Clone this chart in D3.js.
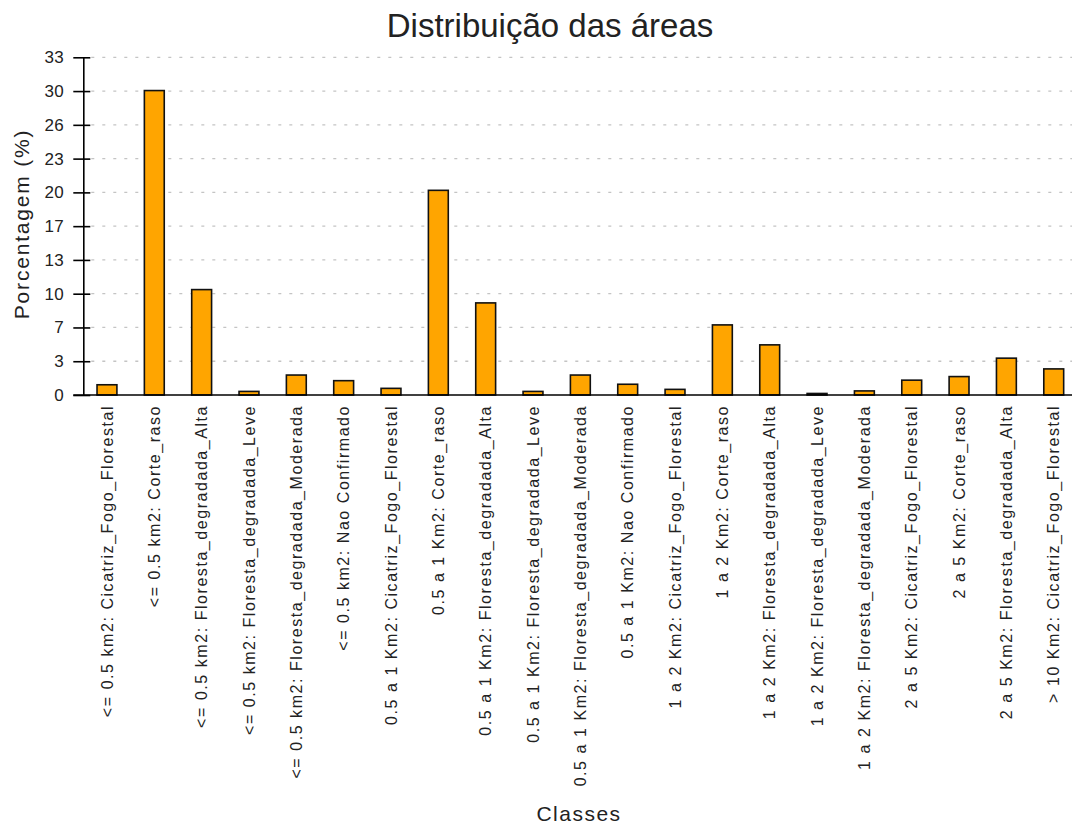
<!DOCTYPE html>
<html>
<head>
<meta charset="utf-8">
<script src="https://cdnjs.cloudflare.com/ajax/libs/d3/7.8.5/d3.min.js"></script>
<style>
    body { margin: 0; background: #fff; }
    text { font-family: "Liberation Sans", Arial, sans-serif; fill: #222; }
</style>
</head>
<body>
<div id="chart"></div>
<script>
var classes = [
    '<= 0.5 km2: Cicatriz_Fogo_Florestal',
    '<= 0.5 km2: Corte_raso',
    '<= 0.5 km2: Floresta_degradada_Alta',
    '<= 0.5 km2: Floresta_degradada_Leve',
    '<= 0.5 km2: Floresta_degradada_Moderada',
    '<= 0.5 km2: Nao Confirmado',
    '0.5 a 1 Km2: Cicatriz_Fogo_Florestal',
    '0.5 a 1 Km2: Corte_raso',
    '0.5 a 1 Km2: Floresta_degradada_Alta',
    '0.5 a 1 Km2: Floresta_degradada_Leve',
    '0.5 a 1 Km2: Floresta_degradada_Moderada',
    '0.5 a 1 Km2: Nao Confirmado',
    '1 a 2 Km2: Cicatriz_Fogo_Florestal',
    '1 a 2 Km2: Corte_raso',
    '1 a 2 Km2: Floresta_degradada_Alta',
    '1 a 2 Km2: Floresta_degradada_Leve',
    '1 a 2 Km2: Floresta_degradada_Moderada',
    '2 a 5 Km2: Cicatriz_Fogo_Florestal',
    '2 a 5 Km2: Corte_raso',
    '2 a 5 Km2: Floresta_degradada_Alta',
    '> 10 Km2: Cicatriz_Fogo_Florestal'
];
var porcentagem = [1.0, 29.75, 10.3, 0.35, 1.95, 1.4, 0.65, 20.0, 9.0, 0.35, 1.95,
    1.05, 0.55, 6.85, 4.9, 0.15, 0.4, 1.45, 1.8, 3.6, 2.55];
var y_ticks = [0, 3.3, 6.6, 9.9, 13.2, 16.5, 19.8, 23.1, 26.4, 29.7, 33];
var y_tick_labels = ['0', '3', '7', '10', '13', '17', '20', '23', '26', '30', '33'];

var chart_width = 1072;
var chart_height = 828;
var left = 83.3, right = 1077.4, top_y = 57.3, base_y = 395;

// Criar SVG
var svg = d3.select('#chart')
    .append('svg')
    .attr('width', chart_width)
    .attr('height', chart_height);

// Criar Escalas
var x_scale = d3.scaleBand()
    .domain(classes)
    .range([left, right])
    .paddingInner(0.58)
    .paddingOuter(0.29);

var y_scale = d3.scaleLinear()
    .domain([0, 33])
    .range([base_y, top_y]);

// grade
svg.append('g')
    .selectAll('line')
    .data(y_ticks.slice(1))
    .enter()
    .append('line')
    .attr('x1', left + 8)
    .attr('x2', chart_width)
    .attr('y1', function (d) { return y_scale(d); })
    .attr('y2', function (d) { return y_scale(d); })
    .attr('stroke', '#c4c4c4')
    .attr('stroke-width', 1.3)
    .attr('stroke-dasharray', '3,8');

// Eixo Y
var y_axis = d3.axisLeft(y_scale)
    .tickValues(y_ticks)
    .tickFormat(function (d, i) { return y_tick_labels[i]; })
    .tickSize(10)
    .tickSizeOuter(0)
    .tickPadding(9);

var gy = svg.append('g')
    .attr('transform', 'translate(' + left + ',0)')
    .call(y_axis);
gy.select('.domain').attr('stroke', '#000').attr('stroke-width', 1.6);
gy.selectAll('.tick line').attr('x2', 7).attr('x1', -10).attr('stroke', '#000').attr('stroke-width', 1.6);
gy.selectAll('.tick text')
    .attr('font-size', 17)
    .attr('letter-spacing', 0.5)
    .attr('font-family', '"Liberation Sans", Arial, sans-serif')
    .attr('fill', '#222');

// Criar barras
svg.selectAll('rect.bar')
    .data(porcentagem)
    .enter()
    .append('rect')
    .attr('class', 'bar')
    .attr('x', function (d, i) { return x_scale(classes[i]); })
    .attr('y', function (d) { return y_scale(d); })
    .attr('width', x_scale.bandwidth())
    .attr('height', function (d) { return base_y - y_scale(d); })
    .attr('fill', '#FFA500')
    .attr('stroke', '#111')
    .attr('stroke-width', 1.6);

// linha base
svg.append('line')
    .attr('x1', left - 10)
    .attr('x2', chart_width)
    .attr('y1', base_y)
    .attr('y2', base_y)
    .attr('stroke', '#000')
    .attr('stroke-width', 1.6);

// Criar rotulos
svg.selectAll('text.classe')
    .data(classes)
    .enter()
    .append('text')
    .attr('class', 'classe')
    .attr('transform', function (d) {
        return 'translate(' + (x_scale(d) + x_scale.bandwidth() / 2) + ',' + (base_y + 10) + ') rotate(-90)';
    })
    .attr('dy', '0.35em')
    .attr('text-anchor', 'end')
    .attr('font-size', 16)
    .attr('letter-spacing', 1.55)
    .text(function (d) { return d; });

// titulos
svg.append('text')
    .attr('x', 550)
    .attr('y', 37)
    .attr('text-anchor', 'middle')
    .attr('font-size', 33)
    .text('Distribuição das áreas');

svg.append('text')
    .attr('transform', 'translate(28.5,224) rotate(-90)')
    .attr('text-anchor', 'middle')
    .attr('font-size', 21)
    .attr('letter-spacing', 1.8)
    .text('Porcentagem (%)');

svg.append('text')
    .attr('x', 579)
    .attr('y', 821)
    .attr('text-anchor', 'middle')
    .attr('font-size', 21)
    .attr('letter-spacing', 1.5)
    .text('Classes');
</script>
</body>
</html>
